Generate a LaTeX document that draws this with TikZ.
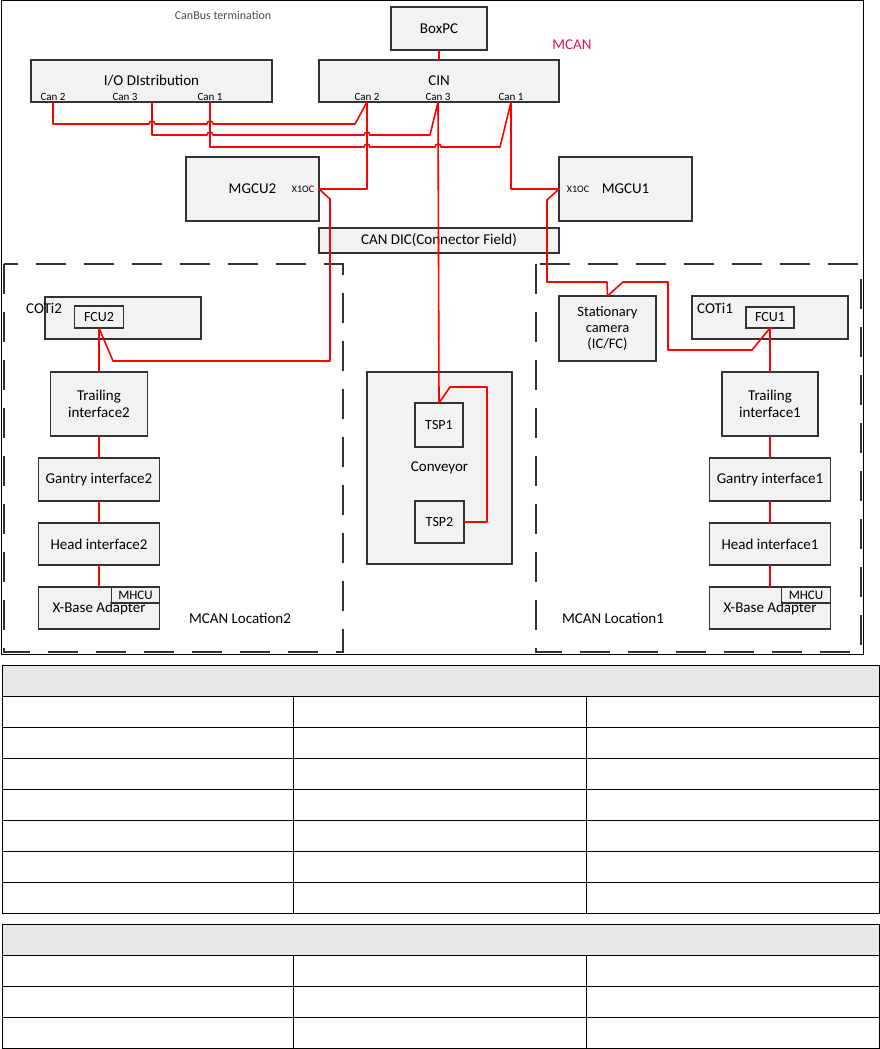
\documentclass[tikz,border=0pt]{standalone}
\usepackage{fontspec}
\setmainfont{Carlito}
\usetikzlibrary{positioning,calc}
\definecolor{mcanred}{RGB}{232,16,88}

\begin{document}
\begin{tikzpicture}[x=1pt, y=-1pt,
  box/.style={draw=black!80, line width=1.1pt, fill=black!5, inner sep=0pt,
              outer sep=0pt, align=center, font=\fontsize{15}{16.5}\selectfont},
  small/.style={font=\fontsize{14}{15}\selectfont},
  lbl/.style={inner sep=0pt, font=\fontsize{15}{16.5}\selectfont},
  port/.style={inner sep=0pt, font=\fontsize{11}{12}\selectfont},
  can/.style={draw=red, line width=1.6pt, line join=round},
  link/.style={draw=red, line width=1.3pt},
  zone/.style={draw=black!80, line width=1.4pt, dash pattern=on 30pt off 18pt},
  cell/.style={draw=black, line width=1pt},
  node distance=22pt]

\useasboundingbox (0,0) rectangle (880,1049);
\draw[line width=1pt] (1,1) rectangle (863,654);

\node[lbl, font=\fontsize{12}{13}\selectfont, text=black!70] (term) at (223,15) {CanBus termination};
\node[lbl, text=mcanred] (mcan) at (572,45) {MCAN};

\node[box, minimum width=96pt, minimum height=43pt] (boxpc) at (439,28.5) {BoxPC};
\node[box, minimum width=241pt, minimum height=42pt] (io) at (151.5,81) {I/O DIstribution};
\node[box, minimum width=240pt, minimum height=42pt] (cin) at (439,81) {CIN};
\node[port] (io-c2) at (53,97) {Can 2};
\node[port] (io-c3) at (125,97) {Can 3};
\node[port] (io-c1) at (210,97) {Can 1};
\node[port] (cin-c2) at (367,97) {Can 2};
\node[port] (cin-c3) at (438,97) {Can 3};
\node[port] (cin-c1) at (511,97) {Can 1};
\coordinate (io-p3) at (152,102);

\node[box, minimum width=133pt, minimum height=64pt] (mgcu2) at (252.5,189) {MGCU2};
\node[port, font=\fontsize{10}{11}\selectfont] (x1oc2) at (303,189) {X1OC};
\node[box, minimum width=133pt, minimum height=64pt] (mgcu1) at (625.5,189) {MGCU1};
\node[port, font=\fontsize{10}{11}\selectfont] (x1oc1) at (578,189) {X1OC};
\node[box, minimum width=240pt, minimum height=25pt] (dic) at (439,240.5) {CAN DIC(Connector Field)};

\draw[zone] (4,264) rectangle (343,652);
\draw[zone] (536,264) rectangle (861,652);

\node[box, minimum width=156pt, minimum height=42pt] (coti2) at (123,318) {};
\node[lbl] (coti2-l) at (44,308) {COTi2};
\node[box, small, minimum width=49pt, minimum height=22pt] (fcu2) at (99,317) {FCU2};
\node[box, minimum width=97pt, minimum height=64pt] (trail2) at (99,404) {Trailing\\interface2};
\node[box, minimum width=121pt, minimum height=43pt, below=of trail2] (gantry2) {Gantry interface2};
\node[box, minimum width=121pt, minimum height=42pt, below=of gantry2] (head2) {Head interface2};
\node[box, minimum width=121pt, minimum height=42pt, below=of head2] (xbase2)
  {\raisebox{-3pt}{X-Base Adapter}};
\node[box, font=\fontsize{13}{14}\selectfont, fill=none, anchor=north east, minimum width=48pt,
  minimum height=16pt] (mhcu2) at (xbase2.north east) {MHCU};
\node[lbl] (loc2) at (240,618) {MCAN Location2};

\node[box, minimum width=145pt, minimum height=192pt] (conv) at (439.5,468) {Conveyor};
\node[box, small, minimum width=48pt, minimum height=44pt] (tsp1) at (439,425) {TSP1};
\node[box, small, minimum width=49pt, minimum height=42pt] (tsp2) at (439.5,522) {TSP2};

\node[box, font=\fontsize{14.5}{16}\selectfont, minimum width=97pt, minimum height=65pt]
  (cam) at (607.5,328.5) {Stationary\\camera\\(IC/FC)};
\node[box, minimum width=156pt, minimum height=43pt] (coti1) at (770,317.5) {};
\node[lbl] (coti1-l) at (715,308) {COTi1};
\node[box, small, minimum width=48pt, minimum height=21pt] (fcu1) at (770,317.5) {FCU1};
\node[box, minimum width=96pt, minimum height=64pt] (trail1) at (770,404) {Trailing\\interface1};
\node[box, minimum width=121pt, minimum height=43pt, below=of trail1] (gantry1) {Gantry interface1};
\node[box, minimum width=121pt, minimum height=42pt, below=of gantry1] (head1) {Head interface1};
\node[box, minimum width=121pt, minimum height=42pt, below=of head1] (xbase1)
  {\raisebox{-3pt}{X-Base Adapter}};
\node[box, font=\fontsize{13}{14}\selectfont, fill=none, anchor=north east, minimum width=49pt,
  minimum height=16pt] (mhcu1) at (xbase1.north east) {MHCU};
\node[lbl] (loc1) at (613,618) {MCAN Location1};

\draw[can] (boxpc) -- (cin);
\draw[can] (io-c2 |- io.south) -- ++(0,22) -- (149,124) arc[start angle=180, end angle=0, radius=3pt]
  -- (207,124) arc[start angle=180, end angle=0, radius=3pt] -- (355,124) -- (cin-c2 |- cin.south);
\draw[can] (io-p3) -- ++(0,33) -- (207,135) arc[start angle=180, end angle=0, radius=3pt]
  -- (364,135) arc[start angle=180, end angle=0, radius=3pt] -- (430,135) -- (cin-c3 |- cin.south);
\draw[can] (io-c1 |- io.south) -- ++(0,45) -- (364,147) arc[start angle=180, end angle=0, radius=3pt]
  -- (435,147) arc[start angle=180, end angle=0, radius=3pt] -- (500,147) -- (cin-c1 |- cin.south);
\draw[can] (cin-c2 |- cin.south) |- (mgcu2.east) -- ++(11,10) -- (330,361) -- (113,361) -- (fcu2.south);
\draw[can] (cin-c1 |- cin.south) |- (mgcu1.west) -- ++(-12,11) -- (547,282) -- (607,282) -- (cam.north)
  -- (623,282) -- (668,282) -- (668,350) -- (752,350) -- (fcu1.south);
\draw[can] (cin-c3 |- cin.south) -- (tsp1.north) -- (450,387) -- (487,387) |- (tsp2.east);

\draw[link] (fcu2) -- (trail2);
\draw[link] (trail2) -- (gantry2);
\draw[link] (gantry2) -- (head2);
\draw[link] (head2) -- (xbase2);
\draw[link] (fcu1) -- (trail1);
\draw[link] (trail1) -- (gantry1);
\draw[link] (gantry1) -- (head1);
\draw[link] (head1) -- (xbase1);

\fill[black!9] (2,665) rectangle (879,696);
\fill[black!9] (2,924) rectangle (879,955);
\draw[cell] (2,665) rectangle (879,913);
\draw[cell] (2,924) rectangle (879,1048);
\foreach \y in {696,727,758,789,820,851,882,955,986,1017}
  \draw[cell] (2,\y) -- (879,\y);
\draw[cell] (293,696) -- (293,913) (586,696) -- (586,913);
\draw[cell] (293,955) -- (293,1048) (586,955) -- (586,1048);
\end{tikzpicture}
\end{document}
